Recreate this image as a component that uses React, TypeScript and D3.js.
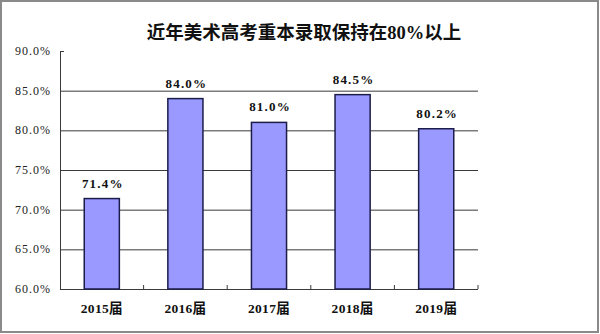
import React from "react";
import * as d3 from "d3";

const title = "近年美术高考重本录取保持在80%以上";
const categories = ["2015届", "2016届", "2017届", "2018届", "2019届"];
const values = [71.4, 84.0, 81.0, 84.5, 80.2];
const yTicks = [60, 65, 70, 75, 80, 85, 90];

export default function App() {
  const W = 600, H = 334;
  const left = 60, right = 478, top = 51, bottom = 289;
  const x = d3.scaleBand<string>().domain(categories).range([left, right]).paddingInner(0.58).paddingOuter(0.29);
  const y = d3.scaleLinear().domain([60, 90]).range([bottom, top]);
  const band = (right - left) / categories.length;
  const serif = "'Liberation Serif', 'DejaVu Serif', 'Noto Sans CJK SC', serif";
  const cjk = "'Liberation Serif', 'Noto Sans CJK SC', serif";
  return (
    <svg width={W} height={H} style={{ position: "absolute", left: 0, top: 0, background: "#fff" }}>
      <rect x={1} y={1} width={W - 3} height={H - 3} fill="#fff" stroke="#8a8a8a" strokeWidth={2} />
      <text x={304} y={39} textAnchor="middle" fontSize={18.5} fontFamily={cjk} fontWeight={600} fill="#111">
        {title}
      </text>
      {yTicks.map((t) => (
        <g key={t}>
          {t > 60 && t < 90 && (
            <line x1={left} x2={right} y1={y(t) + 0.5} y2={y(t) + 0.5} stroke="#3a3a3a" strokeWidth={1} />
          )}
          {t === 90 && <line x1={left} x2={left + 4} y1={y(t) + 0.5} y2={y(t) + 0.5} stroke="#3a3a3a" />}
          <text x={51} y={y(t) + 4} textAnchor="end" fontSize={12} letterSpacing={1} fontFamily={serif} fill="#222">
            {t.toFixed(1) + "%"}
          </text>
        </g>
      ))}
      <line x1={left + 0.5} x2={left + 0.5} y1={top} y2={bottom} stroke="#3a3a3a" />
      <line x1={left} x2={right} y1={bottom + 0.5} y2={bottom + 0.5} stroke="#3a3a3a" />
      {d3.range(1, categories.length + 1).map((i) => (
        <line key={i} x1={left + band * i} x2={left + band * i} y1={bottom} y2={bottom - 4} stroke="#3a3a3a" />
      ))}
      {categories.map((c, i) => (
        <g key={c}>
          <rect
            x={x(c)!}
            y={y(values[i])}
            width={x.bandwidth()}
            height={bottom - y(values[i])}
            fill="#9999FF"
            stroke="#1c1c4a"
            strokeWidth={1.5}
          />
          <text x={x(c)! + x.bandwidth() / 2 + 1} y={y(values[i]) - 11} textAnchor="middle" fontSize={13} letterSpacing={1.2} fontFamily={serif} fontWeight={600} fill="#111">
            {values[i].toFixed(1) + "%"}
          </text>
          <text x={x(c)! + x.bandwidth() / 2} y={313} textAnchor="middle" fontSize={13.5} letterSpacing={0.3} fontFamily={cjk} fontWeight={600} fill="#111">
            {c}
          </text>
        </g>
      ))}
    </svg>
  );
}
